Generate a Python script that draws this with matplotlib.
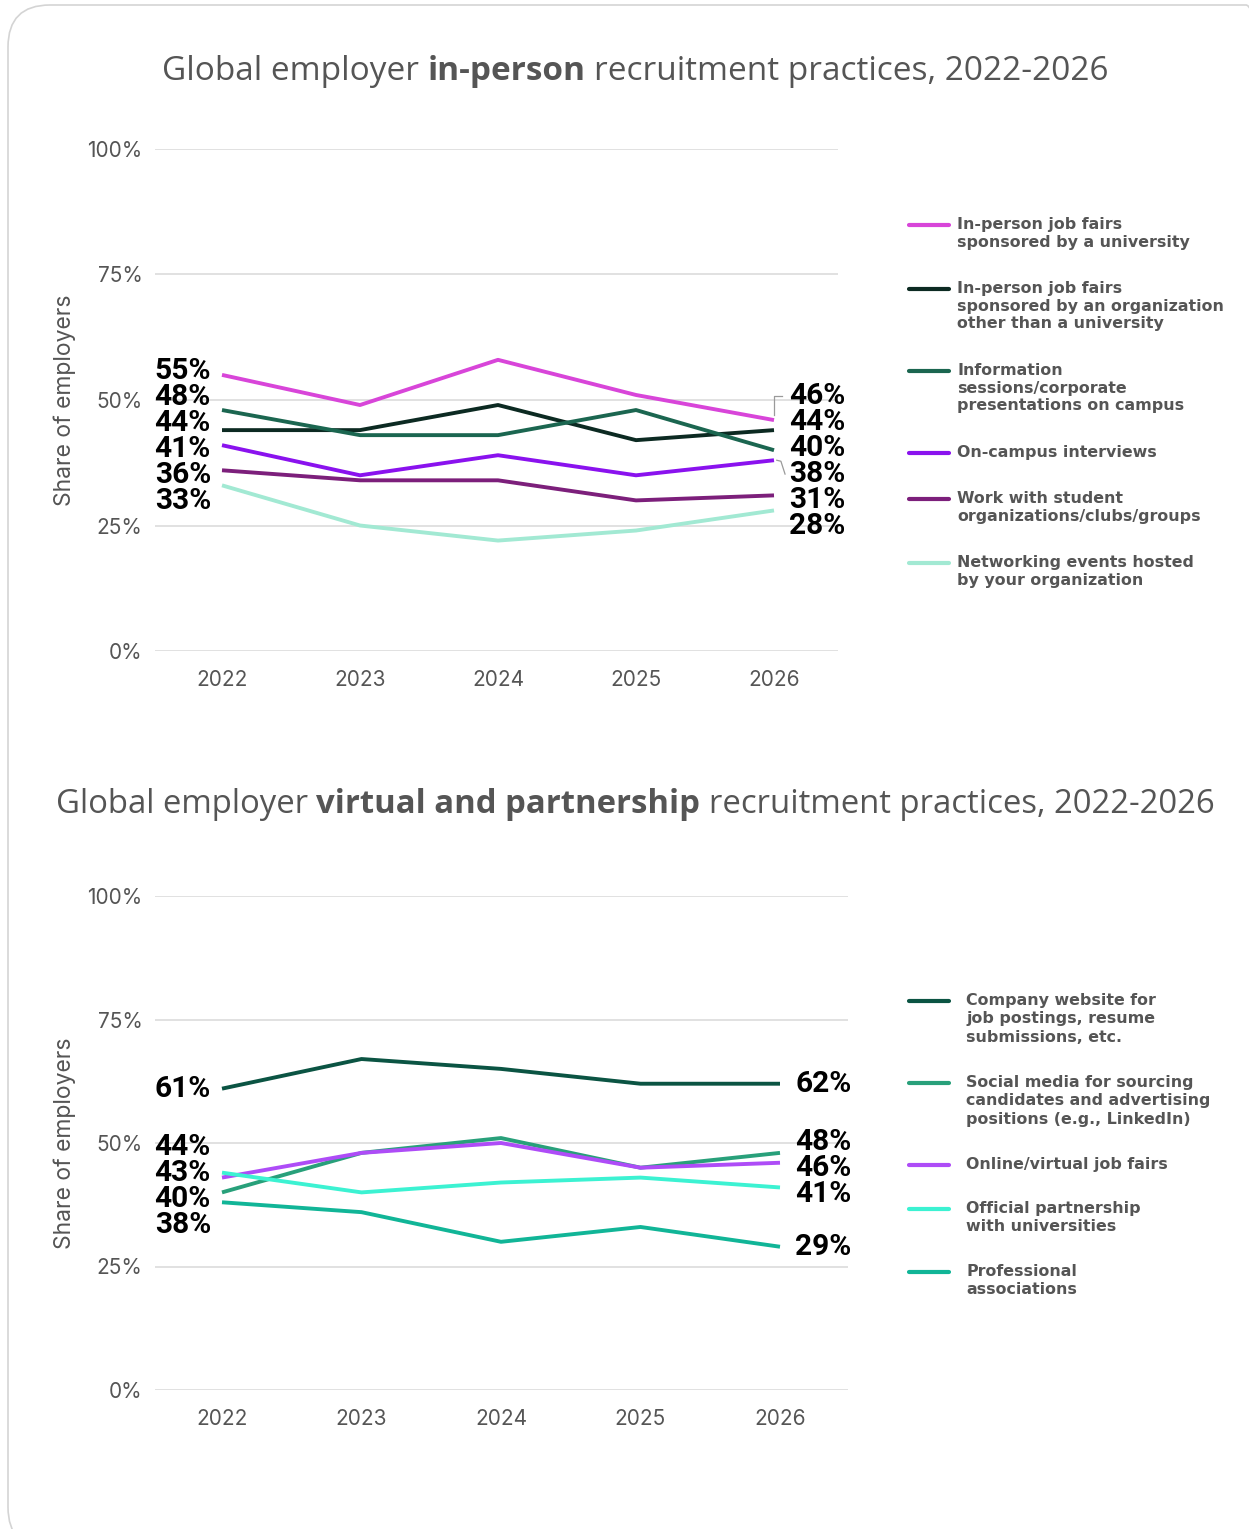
import numpy as np
import matplotlib.pyplot as plt
from matplotlib.lines import Line2D
from matplotlib.patches import FancyBboxPatch

W, H = 1249, 1529
DPI = 100

years = ["2022", "2023", "2024", "2025", "2026"]
y_ticks = [0, 25, 50, 75, 100]

# in-person practices
inperson_names = [
    "In-person job fairs\nsponsored by a university",
    "In-person job fairs\nsponsored by an organization\nother than a university",
    "Information\nsessions/corporate\npresentations on campus",
    "On-campus interviews",
    "Work with student\norganizations/clubs/groups",
    "Networking events hosted\nby your organization",
]
uni_fairs = [55, 49, 58, 51, 46]
org_fairs = [44, 44, 49, 42, 44]
info_sessions = [48, 43, 43, 48, 40]
campus_interviews = [41, 35, 39, 35, 38]
student_orgs = [36, 34, 34, 30, 31]
networking_events = [33, 25, 22, 24, 28]
inperson_values = [uni_fairs, org_fairs, info_sessions, campus_interviews,
                   student_orgs, networking_events]
inperson_colors = ["#d845d9", "#0c2a22", "#1b6650", "#8a12ee", "#7c1f7b", "#a2e9d3"]

# virtual and partnership practices
virtual_names = [
    "Company website for\njob postings, resume\nsubmissions, etc.",
    "Social media for sourcing\ncandidates and advertising\npositions (e.g., LinkedIn)",
    "Online/virtual job fairs",
    "Official partnership\nwith universities",
    "Professional\nassociations",
]
company_site = [61, 67, 65, 62, 62]
social_media = [40, 48, 51, 45, 48]
virtual_fairs = [43, 48, 50, 45, 46]
uni_partnership = [44, 40, 42, 43, 41]
prof_assoc = [38, 36, 30, 33, 29]
virtual_values = [company_site, social_media, virtual_fairs, uni_partnership, prof_assoc]
virtual_colors = ["#0b5443", "#28a07a", "#ae4cf7", "#3cf2d2", "#11b597"]

GRAY = "#555555"
TEXT_FONT = ["Inter", "DejaVu Sans"]
TITLE_FONT = ["Open Sans", "DejaVu Sans"]
LABEL_FONT = ["Roboto", "DejaVu Sans"]
LEGEND_FONT = ["DejaVu Sans"]


def fx(x):
    return x / W


def fy(y):
    return 1 - y / H


def spread(values, gap):
    """Label positions: overlapping labels are merged into evenly spaced groups
    centred on the mean of their values."""
    values = np.asarray(values, dtype=float)
    order = list(np.argsort(-values, kind="stable"))
    groups = [[i] for i in order]

    def placed(g):
        centre = values[g].mean()
        n = len(g)
        return [centre + gap * ((n - 1) / 2 - k) for k in range(n)]

    merged = True
    while merged:
        merged = False
        for j in range(len(groups) - 1):
            if placed(groups[j])[-1] - placed(groups[j + 1])[0] < gap - 1e-9:
                groups[j] = groups[j] + groups.pop(j + 1)
                merged = True
                break
    pos = np.empty_like(values)
    for g in groups:
        for i, p in zip(g, placed(g)):
            pos[i] = p
    return pos


def draw_title(fig, parts, cx, cy, size):
    r = fig.canvas.get_renderer()
    texts = [fig.text(0, fy(cy), s, fontsize=size, fontweight=w, color=GRAY,
                      family=TITLE_FONT, va="center", ha="left") for s, w in parts]
    probe_a = fig.text(0, 0, "x x", fontsize=size, family=TITLE_FONT)
    probe_b = fig.text(0, 0, "xx", fontsize=size, family=TITLE_FONT)
    space = probe_a.get_window_extent(r).width - probe_b.get_window_extent(r).width
    probe_a.remove()
    probe_b.remove()
    widths = [t.get_window_extent(r).width for t in texts]
    total = sum(widths) + space * (len(texts) - 1)
    x = cx - total / 2
    for t, w in zip(texts, widths):
        t.set_x(fx(x))
        x += w + space


def draw_chart(fig, box, x_pos, values, colors, leaders):
    left, top, right, bottom = box
    ax = fig.add_axes([fx(left), fy(bottom), fx(right - left), (bottom - top) / H])
    step = x_pos[1] - x_pos[0]
    x = np.arange(len(years))
    ax.set_xlim(-(x_pos[0] - left) / step, (right - x_pos[0]) / step)
    ax.set_ylim(0, 100)

    for vals, c in zip(values, colors):
        ax.plot(x, vals, color=c, lw=2.8, solid_capstyle="butt", zorder=3)

    ax.set_yticks(y_ticks)
    ax.set_yticklabels([f"{t}%" for t in y_ticks])
    ax.set_xticks(x)
    ax.set_xticklabels(years)
    ax.tick_params(length=0, labelsize=15, labelcolor=GRAY)
    ax.tick_params(axis="y", pad=9)
    ax.tick_params(axis="x", pad=14)
    for lab in ax.get_xticklabels() + ax.get_yticklabels():
        lab.set_family(TEXT_FONT)
    ax.grid(axis="y", color="#d9d9d9", lw=1.1)
    ax.set_axisbelow(True)
    for s in ax.spines.values():
        s.set_visible(False)
    ax.set_ylabel("Share of employers", fontsize=16.5, color=GRAY,
                  family=TEXT_FONT, labelpad=8)

    gap = 26 / ((bottom - top) / 100)
    first = [v[0] for v in values]
    last = [v[-1] for v in values]
    for pos, vals, side in ((spread(first, gap), first, 0), (spread(last, gap), last, 1)):
        for p, v in zip(pos, vals):
            xi = x[0] if side == 0 else x[-1]
            ax.annotate(f"{v}%", xy=(xi, p), xytext=(-8 if side == 0 else 11, 0),
                        textcoords="offset points", ha="right" if side == 0 else "left",
                        va="center", fontsize=21.5, fontweight="bold", color="black",
                        family=LABEL_FONT)
    # connector lines on the right-hand labels
    pos = spread(last, gap)
    for i, kind in leaders:
        v, p = last[i], pos[i]
        if kind == "elbow":
            ax.plot([x[-1], x[-1], x[-1] + 0.06], [v + 1, p, p],
                    color="#9a9a9a", lw=0.9, zorder=2)
        else:
            ax.plot([x[-1] + 0.02, x[-1] + 0.05, x[-1] + 0.08], [v, v - 0.2, p],
                    color="#9a9a9a", lw=0.9, zorder=2)
    return ax


def draw_legend(fig, names, colors, x_line, x_text, y_first, line_h, gap, spacing):
    y = y_first
    for name, c in zip(names, colors):
        fig.add_artist(Line2D([fx(x_line), fx(x_line + 40)], [fy(y), fy(y)],
                              color=c, lw=3, solid_capstyle="round"))
        fig.text(fx(x_text), fy(y - 8), name, fontsize=11.4, fontweight="bold",
                 color=GRAY, family=LEGEND_FONT, va="top", ha="left",
                 linespacing=spacing)
        y += name.count("\n") * line_h + line_h + gap


fig = plt.figure(figsize=(W / DPI, H / DPI), dpi=DPI)
fig.patch.set_facecolor("white")

# card outline, right and bottom edges run off the canvas
fig.add_artist(FancyBboxPatch((0.08, -0.2), 12.8, 15.44,
                              boxstyle="round,pad=0,rounding_size=0.42",
                              transform=fig.dpi_scale_trans, fc="none",
                              ec="#d4d4d4", lw=1.2))

draw_title(fig, [("Global employer", "normal"), ("in-person", "bold"),
                 ("recruitment practices, 2022-2026", "normal")], 635, 72, 24)
draw_chart(fig, (155, 149, 838, 651), [222, 360], inperson_values, inperson_colors,
           [(0, "elbow"), (3, "hook")])
draw_legend(fig, inperson_names, inperson_colors, 909, 957, 225, 18, 28, 1.22)

draw_title(fig, [("Global employer", "normal"), ("virtual and partnership", "bold"),
                 ("recruitment practices, 2022-2026", "normal")], 635, 804, 23.7)
draw_chart(fig, (155, 896, 848, 1390), [222, 361.5], virtual_values, virtual_colors, [])
draw_legend(fig, virtual_names, virtual_colors, 909, 966, 1001, 19, 25, 1.28)

fig.savefig("out.png", dpi=DPI)
